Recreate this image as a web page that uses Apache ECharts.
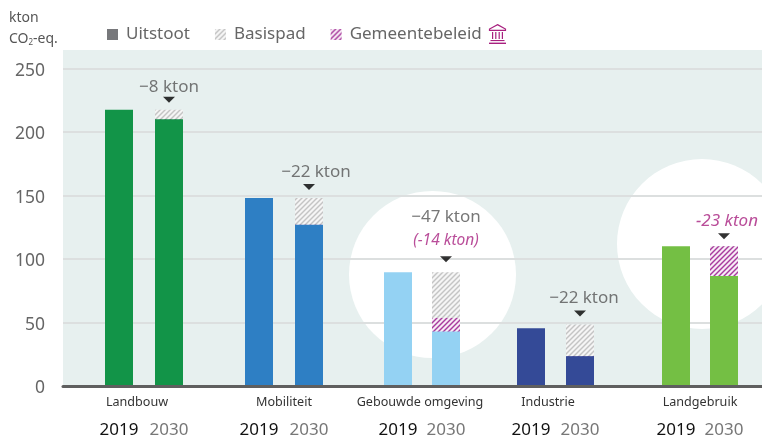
<!DOCTYPE html>
<html>
<head>
<meta charset="utf-8">
<title>Uitstoot per sector</title>
<script src="https://cdn.jsdelivr.net/npm/echarts@6/dist/echarts.min.js"></script>
<style>
    html, body { margin: 0; padding: 0; background: #fff; }
    #main { width: 762px; height: 439px; }
</style>
</head>
<body>
<div id="main"></div>
<script>
// data
var categories = ['Landbouw', 'Mobiliteit', 'Gebouwde omgeving', 'Industrie', 'Landgebruik'];
var years = ['2019', '2030'];
var uitstoot2019 = [217.5, 148, 89.5, 45.5, 110];
var uitstoot2030 = [210, 127, 43, 23.5, 86.5];
var gemeente2030 = [0, 0, 10.5, 0, 23.5];
var basispad2030 = [7.5, 21, 36, 25, 0];
var totalLabels = ['−8 kton', '−22 kton', '−47 kton', '−22 kton', ''];
var policyLabels = ['', '', '(−14 kton)', '', '−23 kton'];
var yTicks = [0, 50, 100, 150, 200, 250];

// layout, the x axis runs in pixels of the plot
var pos2019 = [119, 259, 398, 531, 676];
var pos2030 = [169, 309, 446, 580, 724];
var namePos = [137, 284, 420, 548, 700];
var groupColors = ['#129448', '#2e7fc4', '#94d2f3', '#344a97', '#74bf44'];
var labelShift = [[0, 2], [7, 0], [0, -5], [4, 0], [3, 0]];
var markerGap = [10, 11, 13, 11, 10];
var PURPLE = '#a8207f';

function hatch(color, bg) {
    var c = document.createElement('canvas');
    c.width = 5; c.height = 5;
    var g = c.getContext('2d');
    g.fillStyle = bg;
    g.fillRect(0, 0, 5, 5);
    g.strokeStyle = color;
    g.lineWidth = 1.4;
    [[-1, 6, 6, -1], [-3, 3, 3, -3], [2, 8, 8, 2]].forEach(function (l) {
        g.beginPath(); g.moveTo(l[0], l[1]); g.lineTo(l[2], l[3]); g.stroke();
    });
    return { image: c, repeat: 'repeat' };
}

var fontName = '"Noto Sans", sans-serif';
var chart = echarts.init(document.getElementById('main'));

// a value axis does not stack, so the three parts overlap and each one holds its running total
var xs = [], emission = [], policy = [], base = [], markers = [];
categories.forEach(function (name, i) {
    var withPolicy = uitstoot2030[i] + gemeente2030[i];
    var top = withPolicy + basispad2030[i];
    xs.push(pos2019[i], pos2030[i]);
    emission.push({ value: [pos2019[i], uitstoot2019[i]], itemStyle: { color: groupColors[i] } });
    emission.push({ value: [pos2030[i], uitstoot2030[i]], itemStyle: { color: groupColors[i] } });
    policy.push([pos2030[i], withPolicy]);
    base.push([pos2030[i], top]);
    var text = [];
    if (totalLabels[i]) text.push('{a|' + totalLabels[i] + '}');
    if (policyLabels[i]) text.push((totalLabels[i] ? '{b|' : '{c|') + policyLabels[i] + '}');
    markers.push({
        value: [pos2030[i], top],
        symbolOffset: [0, -markerGap[i]],
        label: { formatter: text.join('\n'), offset: labelShift[i] }
    });
});

// bank icon next to the legend
var iconLine = { stroke: PURPLE, lineWidth: 1.2, fill: 'none' };
var iconParts = [
    { type: 'polygon', shape: { points: [[8.5, 0.6], [16.5, 5], [16.5, 6.4], [0.5, 6.4], [0.5, 5]] }, style: iconLine },
    { type: 'rect', shape: { x: 0, y: 18.6, width: 17, height: 1.4 }, style: { fill: PURPLE } },
    { type: 'rect', shape: { x: 1.5, y: 16, width: 14, height: 1.1 }, style: { fill: PURPLE } }
];
[3, 6.2, 9.6, 12.8].forEach(function (x) {
    iconParts.push({ type: 'rect', shape: { x: x, y: 8, width: 1.2, height: 7 }, style: { fill: PURPLE } });
});

var option = {
    animation: false,
    textStyle: { fontFamily: fontName },
    grid: {
        left: 63, right: 0, top: 50, height: 337,
        show: true, backgroundColor: '#e7f0ef', borderWidth: 0, z: -2
    },
    legend: {
        left: 102, top: 21, itemWidth: 11, itemHeight: 11, itemGap: 25,
        data: [
            { name: 'Uitstoot', icon: 'rect' },
            { name: 'Basispad', icon: 'rect' },
            { name: 'Gemeentebeleid', icon: 'rect' }
        ],
        textStyle: { fontSize: 17, color: '#666', fontFamily: fontName, padding: [0, 0, 0, 3] }
    },
    xAxis: [
        {
            type: 'value', min: 63, max: 762,
            axisLine: { show: true, onZero: false, lineStyle: { color: '#5f5f5f', width: 3 } },
            axisTick: { show: false },
            splitLine: { show: false },
            z: 5,
            axisLabel: {
                customValues: xs,
                margin: 36,
                fontSize: 17,
                hideOverlap: false,
                formatter: function (v) {
                    return pos2019.indexOf(v) >= 0 ? '{y19|' + years[0] + '}' : '{y30|' + years[1] + '}';
                },
                rich: {
                    y19: { color: '#111', fontSize: 17, fontFamily: fontName },
                    y30: { color: '#777', fontSize: 17, fontFamily: fontName }
                }
            }
        },
        {
            type: 'value', min: 63, max: 762, position: 'bottom',
            axisLine: { show: false },
            axisTick: { show: false },
            splitLine: { show: false },
            axisLabel: {
                customValues: namePos,
                margin: 10,
                fontSize: 12.6,
                color: '#333',
                formatter: function (v) { return categories[namePos.indexOf(v)]; }
            }
        }
    ],
    yAxis: {
        type: 'value', min: 0, max: 264.5,
        axisLine: { show: false },
        axisTick: { show: false },
        axisLabel: {
            customValues: yTicks,
            margin: 18, color: '#666',
            formatter: function (v) { return '{t|' + v + '}'; },
            rich: { t: { fontSize: 17.5, color: '#666', padding: [5, 0, 0, 0], fontFamily: fontName } }
        },
        splitLine: { show: false }
    },
    series: [
        {
            // the gridlines come from the same tick list
            name: 'ticks', type: 'bar', data: [], silent: true,
            markLine: {
                silent: true, symbol: 'none', label: { show: false }, z: 1,
                lineStyle: { color: '#dcdfdf', width: 2, type: 'solid' },
                data: yTicks.slice(1).map(function (v) { return { yAxis: v }; })
            }
        },
        {
            name: 'Basispad', type: 'bar', barGap: '-100%', barWidth: 28,
            itemStyle: { color: hatch('#c4c4c4', '#f5f5f5') }, data: base, z: 3
        },
        {
            name: 'Gemeentebeleid', type: 'bar', barGap: '-100%', barWidth: 28,
            itemStyle: { color: hatch('#a83a9e', '#f7ecf5') }, data: policy, z: 3
        },
        {
            name: 'Uitstoot', type: 'bar', barGap: '-100%', barWidth: 28,
            itemStyle: { color: '#77787b' }, data: emission, z: 3
        },
        {
            name: 'marker', type: 'scatter', symbol: 'triangle', symbolRotate: 180,
            symbolSize: [12, 6], itemStyle: { color: '#000' },
            z: 4, silent: true, data: markers,
            label: {
                show: true, position: 'top', distance: 0, align: 'center',
                rich: {
                    a: { fontSize: 17, color: '#555', lineHeight: 24, fontFamily: fontName },
                    b: { fontSize: 15.5, color: PURPLE, fontStyle: 'italic', lineHeight: 22, fontFamily: fontName },
                    c: { fontSize: 17, color: PURPLE, fontStyle: 'italic', lineHeight: 24, fontFamily: fontName }
                }
            }
        }
    ],
    graphic: [
        { type: 'circle', z: -1, silent: true, shape: { cx: 432.5, cy: 274.5, r: 83.5 }, style: { fill: '#fff' } },
        { type: 'circle', z: -1, silent: true, shape: { cx: 702, cy: 244, r: 85 }, style: { fill: '#fff' } },
        {
            type: 'text', x: 9, y: 11,
            style: { text: 'kton', fontSize: 14, fill: '#555', fontFamily: fontName }
        },
        {
            type: 'text', x: 9, y: 31,
            style: {
                text: 'CO{s|2}-eq.', fontSize: 14, fill: '#555', fontFamily: fontName,
                rich: { s: { fontSize: 8, fill: '#555', verticalAlign: 'bottom', padding: [8, 0, 0, 0], fontFamily: fontName } }
            }
        },
        { type: 'group', x: 489, y: 24, silent: true, children: iconParts }
    ]
};
chart.setOption(option);
</script>
</body>
</html>
